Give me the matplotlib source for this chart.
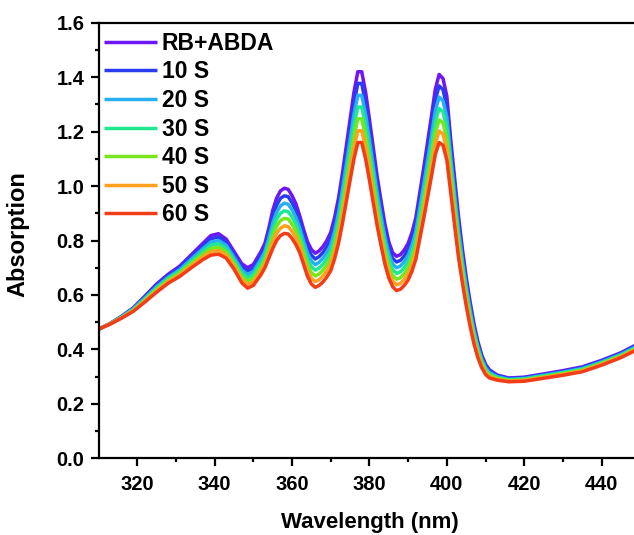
import matplotlib
matplotlib.use("Agg")
import matplotlib.pyplot as plt

plt.rcParams['font.family'] = ['Liberation Sans', 'DejaVu Sans']
plt.rcParams['font.weight'] = 'bold'

wavelength = [310, 313, 316, 319, 322, 325, 328, 331, 334, 337,
              339, 341, 343, 345, 347, 348.5, 350, 352, 353, 354,
              355, 356, 357, 358, 359, 360, 361, 362, 363, 364,
              365, 366, 367, 368, 369, 370, 371, 372, 373, 374,
              375, 376, 377, 378, 379, 380, 381, 382, 383, 384,
              385, 386, 387, 388, 389, 390, 391, 392, 393, 394,
              395, 396, 397, 398, 399, 400, 401, 402, 403, 404,
              405, 406, 407, 408, 409, 410, 411, 413, 416, 420,
              425, 430, 435, 440, 445, 450]

rb_abda = [.474, .495, .522, .553, .596, .640, .676, .706, .748, .790,
           .818, .825, .805, .760, .715, .700, .712, .760, .790, .845,
           .910, .955, .982, .992, .988, .965, .935, .890, .840, .795,
           .767, .753, .762, .778, .800, .830, .885, .955, 1.045, 1.145,
           1.245, 1.345, 1.420, 1.420, 1.345, 1.245, 1.140, 1.035, .945, .860,
           .795, .755, .742, .748, .765, .790, .830, .885, .975, 1.065,
           1.160, 1.255, 1.355, 1.410, 1.395, 1.330, 1.170, 1.030, .890, .770,
           .665, .575, .495, .430, .380, .345, .325, .306, .295, .298,
           .310, .322, .336, .360, .388, .425]

s10 = [.474, .495, .521, .551, .592, .635, .671, .700, .740, .780,
       .806, .813, .793, .749, .703, .688, .699, .746, .775, .827,
       .887, .929, .955, .964, .961, .939, .910, .868, .819, .774,
       .746, .732, .741, .756, .778, .807, .860, .927, 1.014, 1.111,
       1.208, 1.304, 1.377, 1.377, 1.304, 1.208, 1.106, 1.005, .918, .836,
       .773, .734, .721, .727, .743, .768, .806, .860, .947, 1.034,
       1.126, 1.218, 1.315, 1.368, 1.354, 1.291, 1.138, 1.001, .865, .749,
       .648, .560, .483, .420, .372, .339, .320, .303, .293, .296,
       .307, .319, .333, .357, .385, .422]

s20 = [.474, .494, .520, .549, .589, .630, .665, .693, .732, .770,
       .794, .800, .782, .738, .692, .675, .686, .732, .760, .808,
       .863, .903, .927, .937, .933, .913, .885, .845, .797, .753,
       .725, .711, .720, .735, .755, .783, .834, .900, .984, 1.077,
       1.170, 1.263, 1.333, 1.333, 1.263, 1.170, 1.072, .974, .890, .811,
       .751, .713, .700, .706, .722, .745, .783, .834, .919, 1.003,
       1.092, 1.182, 1.275, 1.327, 1.313, 1.252, 1.105, .972, .839, .728,
       .630, .545, .470, .410, .364, .333, .315, .300, .290, .293,
       .305, .316, .330, .354, .382, .418]

s30 = [.474, .494, .518, .547, .585, .625, .660, .687, .724, .760,
       .782, .788, .770, .728, .680, .663, .674, .718, .745, .790,
       .840, .878, .900, .909, .906, .887, .860, .823, .776, .732,
       .704, .691, .699, .713, .733, .760, .809, .872, .953, 1.043,
       1.133, 1.223, 1.290, 1.290, 1.223, 1.133, 1.039, .944, .863, .787,
       .729, .693, .679, .685, .700, .723, .759, .809, .891, .972,
       1.058, 1.145, 1.235, 1.285, 1.273, 1.213, 1.073, .943, .814, .708,
       .613, .530, .458, .400, .357, .327, .310, .297, .288, .291,
       .302, .314, .327, .351, .379, .415]

s40 = [.474, .494, .517, .544, .581, .620, .654, .681, .716, .750,
       .770, .775, .758, .717, .668, .650, .661, .703, .730, .772,
       .817, .852, .873, .881, .879, .860, .835, .800, .755, .710,
       .682, .670, .677, .691, .711, .736, .784, .844, .922, 1.009,
       1.096, 1.182, 1.247, 1.247, 1.182, 1.096, 1.005, .914, .836, .762,
       .706, .672, .658, .663, .678, .700, .735, .783, .862, .941,
       1.024, 1.108, 1.195, 1.243, 1.232, 1.173, 1.040, .913, .789, .687,
       .595, .515, .445, .390, .349, .320, .305, .293, .286, .288,
       .299, .311, .324, .348, .376, .412]

s50 = [.474, .493, .516, .542, .578, .615, .649, .674, .708, .740,
       .758, .763, .747, .706, .657, .638, .648, .689, .715, .753,
       .793, .826, .845, .854, .851, .834, .810, .778, .733, .689,
       .661, .649, .656, .670, .688, .713, .758, .817, .892, .975,
       1.058, 1.141, 1.203, 1.203, 1.141, 1.058, .971, .883, .808, .738,
       .684, .651, .637, .642, .657, .678, .712, .758, .834, .910,
       .990, 1.071, 1.155, 1.202, 1.191, 1.134, 1.008, .884, .763, .666,
       .578, .500, .433, .380, .341, .314, .300, .290, .283, .286,
       .297, .308, .321, .345, .373, .408]

s60 = [.474, .493, .515, .540, .574, .610, .643, .668, .700, .730,
       .746, .750, .735, .695, .645, .625, .635, .675, .700, .735,
       .770, .800, .818, .826, .824, .808, .785, .755, .712, .668,
       .640, .628, .635, .648, .666, .689, .733, .789, .861, .941,
       1.021, 1.100, 1.160, 1.160, 1.100, 1.021, .937, .853, .781, .713,
       .662, .630, .616, .621, .635, .655, .688, .732, .806, .879,
       .956, 1.034, 1.115, 1.160, 1.150, 1.095, .975, .855, .738, .645,
       .560, .485, .420, .370, .333, .308, .295, .287, .281, .283,
       .294, .305, .318, .342, .370, .405]

labels = ['RB+ABDA', '10 S', '20 S', '30 S', '40 S', '50 S', '60 S']
series = [rb_abda, s10, s20, s30, s40, s50, s60]
colors = ['#6e16f5', '#2a3cf0', '#26b0f2', '#1ee890', '#78e61e', '#ffa01e', '#f23c1a']

fig = plt.figure(figsize=(6.34, 5.35), dpi=100)
ax = fig.add_axes([98.5 / 634, 76.7 / 535, 541.9 / 634, 435.6 / 535])

for y, c, lab in zip(series, colors, labels):
    ax.plot(wavelength, y, color=c, lw=2.5, label=lab,
            solid_joinstyle='round', solid_capstyle='butt')

ax.set_xlim(310, 450)
ax.set_ylim(0, 1.6)
ax.set_xticks([320, 340, 360, 380, 400, 420, 440])
ax.set_xticks([330, 350, 370, 390, 410, 430, 450], minor=True)
ax.set_yticks([0.0, 0.2, 0.4, 0.6, 0.8, 1.0, 1.2, 1.4, 1.6])
ax.set_yticks([0.1, 0.3, 0.5, 0.7, 0.9, 1.1, 1.3, 1.5], minor=True)
ax.set_yticklabels(['0.0', '0.2', '0.4', '0.6', '0.8', '1.0', '1.2', '1.4', '1.6'])

ax.tick_params(which='major', direction='out', length=6, width=1.6, labelsize=14.5, pad=4)
ax.tick_params(which='minor', direction='out', length=3, width=1.6)
ax.tick_params(axis='x', which='major', pad=6)
for s in ['left', 'top', 'bottom', 'right']:
    ax.spines[s].set_linewidth(1.6)

ax.set_xlabel('Wavelength (nm)', fontsize=16, fontweight='bold')
ax.set_ylabel('Absorption', fontsize=17, fontweight='bold')
ax.xaxis.set_label_coords(0.5, -0.124)
ax.yaxis.set_label_coords(-0.127, 0.515)

leg = ax.legend(loc='upper left', bbox_to_anchor=(0.0, 0.992), frameon=False,
                fontsize=16.5, handlelength=2.31, handletextpad=0.22,
                labelspacing=0.245, borderaxespad=0.1, borderpad=0.14)
for t in leg.get_texts():
    t.set_fontweight('bold')

fig.savefig('out.png', dpi=100)
